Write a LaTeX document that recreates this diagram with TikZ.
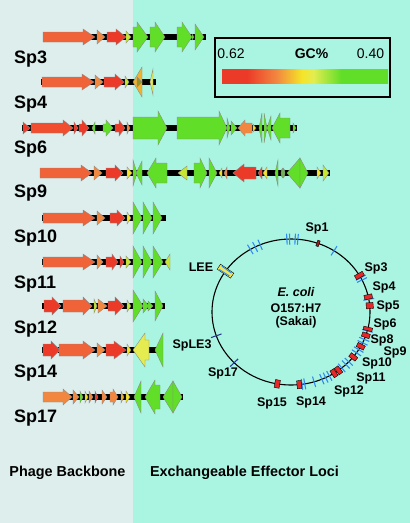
\documentclass[tikz,border=0pt]{standalone}
\usepackage{fontspec}
\setmainfont{Liberation Sans}
\usetikzlibrary{calc}
\definecolor{bgL}{RGB}{221,238,236}
\definecolor{bgR}{RGB}{170,245,226}
\definecolor{gRed}{RGB}{236,58,40}
\definecolor{gRO}{RGB}{240,78,46}
\definecolor{gOR}{RGB}{240,98,56}
\definecolor{gOr}{RGB}{242,136,64}
\definecolor{gYe}{RGB}{245,228,40}
\definecolor{gYL}{RGB}{228,236,80}
\definecolor{gYG}{RGB}{198,230,50}
\definecolor{gGr}{RGB}{96,222,40}
\definecolor{gGo}{RGB}{240,176,48}
\definecolor{gOl}{RGB}{150,150,40}
\definecolor{bTick}{RGB}{50,140,240}
\definecolor{nTick}{RGB}{40,60,150}
\definecolor{mRed}{RGB}{232,40,40}
\definecolor{dRed}{RGB}{160,30,30}
\definecolor{leeY}{RGB}{240,230,90}
\pgfdeclarehorizontalshading{gcshade}{100bp}{color(0bp)=(gRed); color(25bp)=(gRed); color(32.5bp)=(gRed); color(41.5bp)=(gOr); color(49bp)=(gYe); color(52.5bp)=(gYL); color(61bp)=(gGr); color(75bp)=(gGr); color(100bp)=(gGr)}
\tikzset{
  gene/.style={draw=black!45, line width=0.4pt, line join=miter},
  bbone/.style={line width=5.5pt, black},
  rowlab/.style={font=\bfseries\fontsize{18}{18}\selectfont, anchor=base west, inner sep=0pt},
  circlab/.style={font=\bfseries\fontsize{12.5}{13}\selectfont, inner sep=0pt},
  botlab/.style={font=\bfseries\fontsize{14.4}{15}\selectfont, anchor=base, inner sep=0pt},
  leglab/.style={font=\fontsize{14}{15}\selectfont, anchor=base, inner sep=0pt}
}
% rightward gene: color, x1, x2, y, body half, head half, head length
\newcommand{\gR}[7]{\filldraw[gene,fill=#1] (#2,#4-#5) -- (#3-#7,#4-#5) -- (#3-#7,#4-#6) -- (#3,#4) -- (#3-#7,#4+#6) -- (#3-#7,#4+#5) -- (#2,#4+#5) -- cycle;}
% leftward gene: tip at x1
\newcommand{\gL}[7]{\filldraw[gene,fill=#1] (#3,#4-#5) -- (#2+#7,#4-#5) -- (#2+#7,#4-#6) -- (#2,#4) -- (#2+#7,#4+#6) -- (#2+#7,#4+#5) -- (#3,#4+#5) -- cycle;}
\newcommand{\tR}[5]{\filldraw[gene,fill=#1] (#2,#4-#5) -- (#3,#4) -- (#2,#4+#5) -- cycle;}
\newcommand{\tL}[5]{\filldraw[gene,fill=#1] (#3,#4-#5) -- (#2,#4) -- (#3,#4+#5) -- cycle;}
% circle marks
\newcommand{\rmark}[4][mRed]{\filldraw[fill=#1, draw=black, line width=0.4pt, shift={({291+79*cos(#2)},{312+73*sin(#2)})}, rotate={-1*(#2)}] (-#3/2,-#4/2) rectangle (#3/2,#4/2);}
\newcommand{\btick}[2][bTick]{\draw[#1, line width=1.1pt, shift={({291+79*cos(#2)},{312+73*sin(#2)})}, rotate={-1*(#2)}] (-5.5,0) -- (5.5,0);}
\begin{document}
\begin{tikzpicture}[x=1pt,y=-1pt]
\useasboundingbox (0,0) rectangle (410,523);
\fill[bgL] (0,0) rectangle (133,523);
\fill[bgR] (133,0) rectangle (410,523);

% ---------- Sp3 ----------
\draw[bbone] (43,37) -- (206,37);
\gR{gOR}{43}{95}{37}{5}{8}{12}
\tR{gOr}{97}{105}{37}{7}
\gR{gRed}{107}{126}{37}{5}{8}{10}
\tR{gYG}{126}{131}{37}{6}
\gR{gGr}{133}{148}{37}{10}{15}{11}
\gR{gGr}{150}{165}{37}{10}{15}{10}
\gR{gGr}{177}{192}{37}{10}{15}{10}
\tR{gGr}{192}{194}{37}{3}
\tR{gGr}{195}{204}{37}{13}
\node[rowlab] (l3) at (14,63) {Sp3};

% ---------- Sp4 ----------
\draw[bbone] (41,82) -- (156,82);
\gR{gOR}{42}{94}{82}{5}{8}{12}
\tR{gOr}{95}{103}{82}{7}
\gR{gRed}{104}{124}{82}{5}{8}{9}
\tR{gYG}{125}{129}{82}{6}
\tL{gGo}{133}{142}{82}{15}
\tR{gOl}{137}{142}{82}{5}
\tL{gYL}{150}{153}{82}{13}
\node[rowlab] (l4) at (14,108) {Sp4};

% ---------- Sp6 ----------
\draw[bbone] (22,128) -- (297,128);
\tR{gRed}{23}{30}{128}{6}
\gR{gRO}{31}{73}{128}{5}{8}{10}
\tR{gRed}{74}{78}{128}{6}
\gR{gRed}{79}{89}{128}{4}{8}{7}
\tL{gGr}{92}{95}{128}{6}
\gR{gGr}{103}{113}{128}{4}{8}{7}
\gR{gRed}{115}{125}{128}{4}{8}{6}
\tR{gOr}{127}{130}{128}{6}
\gR{gGr}{133}{167}{128}{11}{17}{9}
\gR{gGr}{177}{227}{128}{11}{17}{8}
\tR{gGr}{227}{230}{128}{10}
\tR{gGr}{231}{237}{128}{7}
\gL{gOr}{238}{252}{128}{5}{8}{7}
\tR{gYe}{253}{256}{128}{4}
\tL{gGr}{259}{262}{128}{15}
\tR{gGr}{264}{267}{128}{15}
\tL{gGr}{267}{271}{128}{12}
\gL{gGr}{272}{290}{128}{10}{15}{8}
\tR{gGr}{293}{296}{128}{5}
\node[rowlab] (l6) at (14,153) {Sp6};

% ---------- Sp9 ----------
\draw[bbone] (40,173) -- (330,173);
\gR{gOR}{40}{92}{173}{5}{8}{11}
\tR{gOr}{94}{102}{173}{7}
\gR{gRed}{106}{123}{173}{5}{8}{8}
\tR{gYe}{127}{132}{173}{6}
\tR{gGr}{133}{137}{173}{13}
\tL{gGr}{136}{142}{173}{12}
\gL{gGr}{147}{167}{173}{10}{15}{9}
\tL{gYG}{178}{187}{173}{7}
\gR{gGr}{194}{207}{173}{10}{15}{7}
\tR{gGr}{209}{217}{173}{15}
\tL{gYe}{219}{222}{173}{5}
\tL{gOr}{224}{227}{173}{6}
\gL{gRed}{233}{256}{173}{6}{9}{11}
\tL{gRed}{258}{262}{173}{6}
\tL{gYe}{263}{267}{173}{6}
\tL{gGr}{275}{278}{173}{13}
\filldraw[gene,fill=gGr!50!gray] (283,173) ellipse (2 and 5);
\tL{gGr}{287}{300}{173}{15}
\tR{gGr}{300}{308}{173}{15}
\tR{gYe}{317}{321}{173}{6}
\tR{gYG}{323}{329}{173}{8}
\node[rowlab] (l9) at (14,197) {Sp9};

% ---------- Sp10 ----------
\draw[bbone] (42,218) -- (166,218);
\gR{gOR}{43}{95}{218}{5}{8}{12}
\tR{gOr}{97}{105}{218}{7}
\gR{gRed}{110}{125}{218}{5}{8}{8}
\tR{gYe}{127}{131}{218}{6}
\tR{gGr}{133}{142}{218}{16}
\tR{gGr}{143}{152}{218}{16}
\tR{gGr}{153}{162}{218}{16}
\node[rowlab] (l10) at (14,242) {Sp10};

% ---------- Sp11 ----------
\draw[bbone] (42,262) -- (170,262);
\gR{gOR}{43}{95}{262}{5}{8}{12}
\tR{gOr}{97}{103}{262}{7}
\gR{gRed}{106}{118}{262}{5}{8}{6}
\tR{gRed}{120}{124}{262}{6}
\tR{gYG}{126}{131}{262}{6}
\tR{gGr}{133}{142}{262}{16}
\tR{gGr}{143}{152}{262}{16}
\tR{gGr}{153}{163}{262}{16}
\tL{gYG}{165}{170}{262}{8}
\node[rowlab] (l11) at (14,288) {Sp11};

% ---------- Sp12 ----------
\draw[bbone] (42,306) -- (165,306);
\gR{gRed}{44}{61}{306}{6}{9}{9}
\gR{gOR}{63}{92}{306}{6}{9}{9}
\tR{gYG}{94}{97}{306}{7}
\tR{gOr}{98}{107}{306}{7}
\gR{gRed}{108}{124}{306}{5}{9}{9}
\tR{gYG}{127}{131}{306}{6}
\tR{gGr}{133}{143}{306}{16}
\tR{gGr}{143}{149}{306}{7}
\tR{gGr}{148}{153}{306}{5}
\tR{gGr}{155}{163}{306}{15}
\node[rowlab] (l12) at (14,333) {Sp12};

% ---------- Sp14 ----------
\draw[bbone] (42,350) -- (163,350);
\gR{gRed}{43}{60}{350}{6}{9}{9}
\gR{gOR}{59}{95}{350}{6}{9}{12}
\tR{gOr}{97}{105}{350}{7}
\gR{gRed}{106}{126}{350}{6}{9}{12}
\tR{gYe}{127}{131}{350}{6}
\gL{gYL}{133}{149}{350}{10}{17}{12}
\tL{gGr}{155}{163}{350}{17}
\node[rowlab] (l14) at (14,377) {Sp14};

% ---------- Sp17 ----------
\draw[bbone] (43,397) -- (183,397);
\gR{gOr}{43}{72}{397}{5}{8}{9}
\tR{gOr}{73}{79}{397}{7}
\tR{gGr}{80}{83}{397}{6}
\tR{gYe}{85}{88}{397}{6}
\tR{gOr}{89}{93}{397}{6}
\tR{gRed}{95}{98}{397}{6}
\tR{gOr}{102}{107}{397}{7}
\gR{gOr}{110}{118}{397}{5}{8}{5}
\tR{gGo}{121}{124}{397}{6}
\tR{gYe}{126}{130}{397}{6}
\tL{gGr}{134}{141}{397}{16}
\gL{gGr}{145}{160}{397}{12}{17}{10}
\tL{gGr}{163}{173}{397}{16}
\tR{gGr}{173}{182}{397}{16}
\node[rowlab] (l17) at (14,422) {Sp17};

% ---------- legend ----------
\shade[shading=gcshade] (222,69) rectangle (388,83);
\draw[line width=1.2pt] (215,38) rectangle (390,97);
\node[leglab] (lo) at (231,58) {0.62};
\node[leglab, font=\bfseries\fontsize{14}{15}\selectfont] (lgc) at (311.5,58) {GC\%};
\node[leglab] (lhi) at (370.5,58) {0.40};

% ---------- chromosome ----------
\draw[line width=1.1pt] (291,312) ellipse (79 and 73);
\foreach \a in {-121,-117,-113,-93,-91,-87,-85,-57,-28,-26,-10,15,22,25,31,34,43,46,50,61,64,67,73,80,82} {\btick{\a}}
% LEE
\rmark[leeY]{214}{16}{6}
\draw[bTick, line width=1pt, shift={({291+79*cos(212.5)},{312+73*sin(212.5)})}, rotate=-212.5] (-6,0) -- (6,0);
\draw[bTick, line width=1pt, shift={({291+79*cos(215.5)},{312+73*sin(215.5)})}, rotate=-215.5] (-6,0) -- (6,0);
\btick[nTick]{161}
\btick[nTick]{136}
\rmark[dRed]{-70}{6}{2.5}
\rmark{-30}{9}{4.5}
\rmark{-12}{8}{4.5}
\rmark{-5}{7}{6}
\rmark{13.4}{9}{3.5}
\rmark{18.6}{8}{4.5}
\rmark{28}{8}{4.5}
\rmark{38}{8}{4.5}
\rmark{53}{8}{4.5}
\rmark{57}{8}{4.5}
\rmark{84}{8}{4.5}
\rmark{100}{8}{5}

\node[circlab] (c1) at (317,228) {Sp1};
\node[circlab] (c3) at (376,268) {Sp3};
\node[circlab] (c4) at (384,287) {Sp4};
\node[circlab] (c5) at (388,306) {Sp5};
\node[circlab] (c6) at (385,324) {Sp6};
\node[circlab] (c8) at (382,340) {Sp8};
\node[circlab] (c9) at (395,352) {Sp9};
\node[circlab] (c10) at (377,363) {Sp10};
\node[circlab] (c11) at (371,378) {Sp11};
\node[circlab] (c12) at (349,391) {Sp12};
\node[circlab] (c14) at (311,402) {Sp14};
\node[circlab] (c15) at (272,403) {Sp15};
\node[circlab] (c17) at (223,373) {Sp17};
\node[circlab] (cle3) at (192,345) {SpLE3};
\node[circlab] (clee) at (201,267) {LEE};
\node[circlab, font=\bfseries\itshape\fontsize{12.5}{13}\selectfont] (ec) at (296,292) {E. coli};
\node[circlab] (eo) at (296,308) {O157:H7};
\node[circlab] (es) at (296,322) {(Sakai)};

% ---------- bottom labels ----------
\node[botlab] (pb) at (67.5,476) {Phage Backbone};
\node[botlab] (eel) at (244.5,476) {Exchangeable Effector Loci};
\end{tikzpicture}
\end{document}
